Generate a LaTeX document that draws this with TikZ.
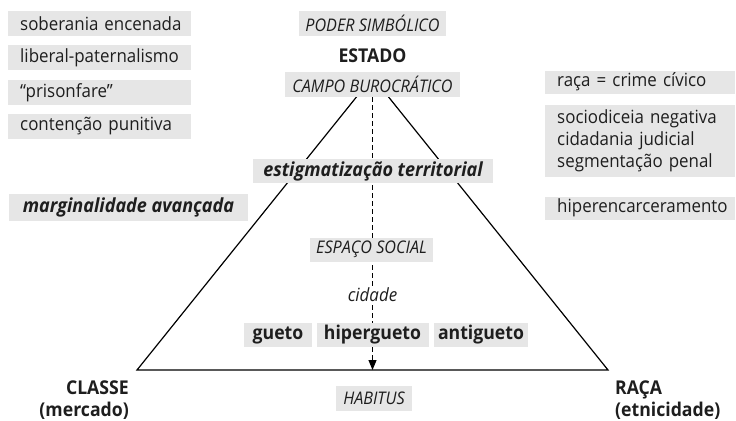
\documentclass[tikz,border=0pt]{standalone}
\usepackage{fontspec}
\setmainfont{Open Sans}[FakeStretch=0.93]
\usetikzlibrary{arrows.meta}
\definecolor{boxgray}{RGB}{230,230,230}
\definecolor{txt}{RGB}{30,30,30}
\newcommand{\fmain}{\fontsize{18.2bp}{22bp}\selectfont}
\newcommand{\fbold}{\fontsize{19bp}{22bp}\selectfont\bfseries}
\newcommand{\fbit}{\fontsize{19.4bp}{22bp}\selectfont\bfseries\itshape}
\newcommand{\fcaps}{\fontsize{17.4bp}{18bp}\selectfont\itshape}
\pgfdeclarelayer{bg}
\pgfsetlayers{bg,main}
\begin{document}
\begin{tikzpicture}[x=1bp,y=-1bp,
  gbox/.style={fill=boxgray, inner sep=0pt, text=txt},
  lbox/.style={gbox, anchor=west, minimum height=25bp, inner xsep=12bp, text width=159bp, align=left, font=\fmain},
  rbox/.style={gbox, anchor=west, minimum height=23bp, inner xsep=12bp, text width=166bp, align=left, font=\fmain},
  capbox/.style={gbox, minimum height=25bp, font=\fcaps},
  boldbox/.style={gbox, minimum height=24bp, font=\fbold},
  bitbox/.style={gbox, minimum height=25bp, font=\fbit},
  plain/.style={inner sep=0pt, text=txt, font=\fmain},
  tri/.style={line width=1.2bp, line join=miter},
  dashln/.style={line width=1bp, dash pattern=on 5bp off 3bp}
]
\useasboundingbox (0,0) rectangle (736,420);

% left column
\node[lbox] (sober) at (8,23.5) {\mbox{soberania encenada}};
\node[lbox] (liberal) at (8,57.5) {\mbox{liberal-paternalismo}};
\node[lbox] (prison) at (8,92.5) {\mbox{“prisonfare”}};
\node[lbox] (conten) at (8,126.5) {\mbox{contenção punitiva}};
\node[bitbox, minimum width=239bp, minimum height=27bp] (margin) at (128.5,207) {marginalidade avançada};

% right column
\node[rbox] (raca) at (545,82) {\mbox{raça = crime cívico}};
\node[rbox, minimum height=72bp] (socio) at (545,141) {\mbox{sociodiceia negativa}\\\mbox{cidadania judicial}\\\mbox{segmentação penal}};
\node[rbox] (hiperenc) at (545,208) {\mbox{hiperencarceramento}};

% centre
\node[capbox, minimum width=147bp] (poder) at (372.5,23.5) {PODER SIMBÓLICO};
\node[plain, font=\fbold] (estado) at (372.5,55.5) {ESTADO};
\node[capbox, minimum width=175bp] (campo) at (372.5,84.5) {CAMPO BUROCRÁTICO};
\node[bitbox, minimum width=240bp, minimum height=24bp] (estig) at (373,171) {estigmatização territorial};
\node[capbox, minimum width=123bp, minimum height=24bp] (espaco) at (371.5,249.5) {ESPAÇO SOCIAL};
\node[plain, font=\fmain\itshape, fill=white, inner sep=2bp] (cidade) at (372.5,295) {cidade};
\node[boldbox, minimum width=68bp] (gueto) at (278,335) {gueto};
\node[boldbox, minimum width=112bp] (hiper) at (372.5,335) {hipergueto};
\node[boldbox, minimum width=94bp] (anti) at (481,335) {antigueto};
\node[capbox, minimum width=76bp] (habitus) at (374,398.5) {HABITUS};

% corners
\node[plain, font=\fbold, align=right, anchor=north east] (classe) at (129,381) {CLASSE\\(mercado)};
\node[plain, font=\fbold, align=left, anchor=north west] (raca2) at (615,381) {RAÇA\\(etnicidade)};

\coordinate (apex) at (372.5,77);
\coordinate (bl) at (137,370);
\coordinate (br) at (608,370);

\begin{pgfonlayer}{bg}
\draw[tri] (apex) -- (bl) -- (br) -- cycle;
\draw[dashln] (campo.south) -- (hiper.north);
\end{pgfonlayer}
\draw[dashln, -{Triangle[length=10bp,width=8bp]}] (hiper.south) -- (hiper.south |- bl);
\end{tikzpicture}
\end{document}
